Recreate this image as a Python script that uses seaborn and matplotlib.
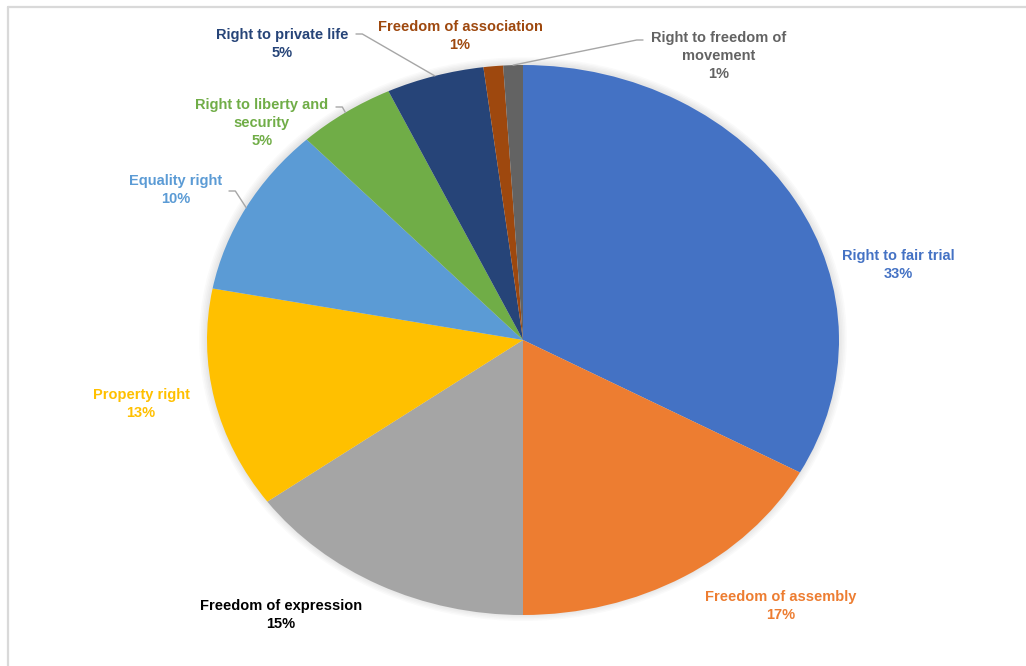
import matplotlib
matplotlib.use("Agg")
import matplotlib.pyplot as plt
from matplotlib.patches import Ellipse
import numpy as np
import seaborn as sns

# Share of cases by right concerned
categories = [
    "Right to fair trial",
    "Freedom of assembly",
    "Freedom of expression",
    "Property right",
    "Equality right",
    "Right to liberty and\nsecurity",
    "Right to private life",
    "Freedom of association",
    "Right to freedom of\nmovement",
]
shares = [33, 17, 15, 13, 10, 5, 5, 1, 1]

slice_colors = ["#4472C4", "#ED7D31", "#A5A5A5", "#FFC000", "#5B9BD5",
                "#70AD47", "#264478", "#9E480E", "#636363"]
label_colors = ["#4472C4", "#ED7D31", "#000000", "#FFC000", "#5B9BD5",
                "#70AD47", "#264478", "#9E480E", "#636363"]

sns.set_theme(style="white")
plt.rcParams["font.family"] = ["Liberation Sans Narrow", "Liberation Sans", "DejaVu Sans"]

W, H = 1026, 666
fig = plt.figure(figsize=(W / 100, H / 100), dpi=100)
ax = fig.add_axes([0, 0, 1, 1])

# pie centre and radii in pixels (the pie is drawn as a wide ellipse)
CX, CY, RX, RY = 523, 340, 316, 275


def to_data(px, py):
    return (px - CX) / RX, (CY - py) / RY


# faint soft shadow around the pie
for k in range(5):
    s = 1.0 + 0.005 * (k + 1)
    ax.add_patch(Ellipse((0, 0.003), 2 * s, 2 * s, facecolor="#000000",
                         alpha=0.018, linewidth=0, zorder=0))

wedges, _ = ax.pie(shares, colors=slice_colors, startangle=90, counterclock=False,
                   radius=1.0, wedgeprops=dict(linewidth=0))
for w in wedges:
    w.set_zorder(2)

ax.set_aspect("auto")
x0, _ = to_data(0, 0)
x1, _ = to_data(W, 0)
_, y1 = to_data(0, 0)
_, y0 = to_data(0, H)
ax.set_xlim(x0, x1)
ax.set_ylim(y0, y1)
ax.axis("off")

# label block centres in pixels
label_pos = [(898, 265), (781, 606), (281, 615), (141, 404), (176, 190),
             (262, 123), (282, 44), (460, 36), (719, 56)]
# leader line start points (pixels) for the small slices
leaders = {4: (229, 191), 5: (336, 107), 6: (356, 34), 8: (643, 40)}

cum = np.cumsum([0] + shares[:-1])
for i, (name, v) in enumerate(zip(categories, shares)):
    lx, ly = to_data(*label_pos[i])
    ax.text(lx, ly, f"{name}\n{v}%", ha="center", va="center", fontsize=10.5,
            fontweight="bold", color=label_colors[i], linespacing=1.35, zorder=5)
    if i in leaders:
        mid = (cum[i] + v / 2) / 100 * 2 * np.pi
        ex, ey = np.sin(mid), np.cos(mid)
        sx, sy = to_data(*leaders[i])
        kx = sx + (0.02 if ex > sx else -0.02)
        ax.plot([sx, kx, ex], [sy, sy, ey], color="#A6A6A6",
                linewidth=1.0, zorder=3)

# chart area frame
fx, fy = to_data(8, 7)
ax.plot([fx, x1], [fy, fy], color="#D9D9D9", linewidth=1.6, zorder=1)
ax.plot([fx, fx], [fy, y0], color="#D9D9D9", linewidth=1.6, zorder=1)

fig.savefig("out.png", dpi=100)
